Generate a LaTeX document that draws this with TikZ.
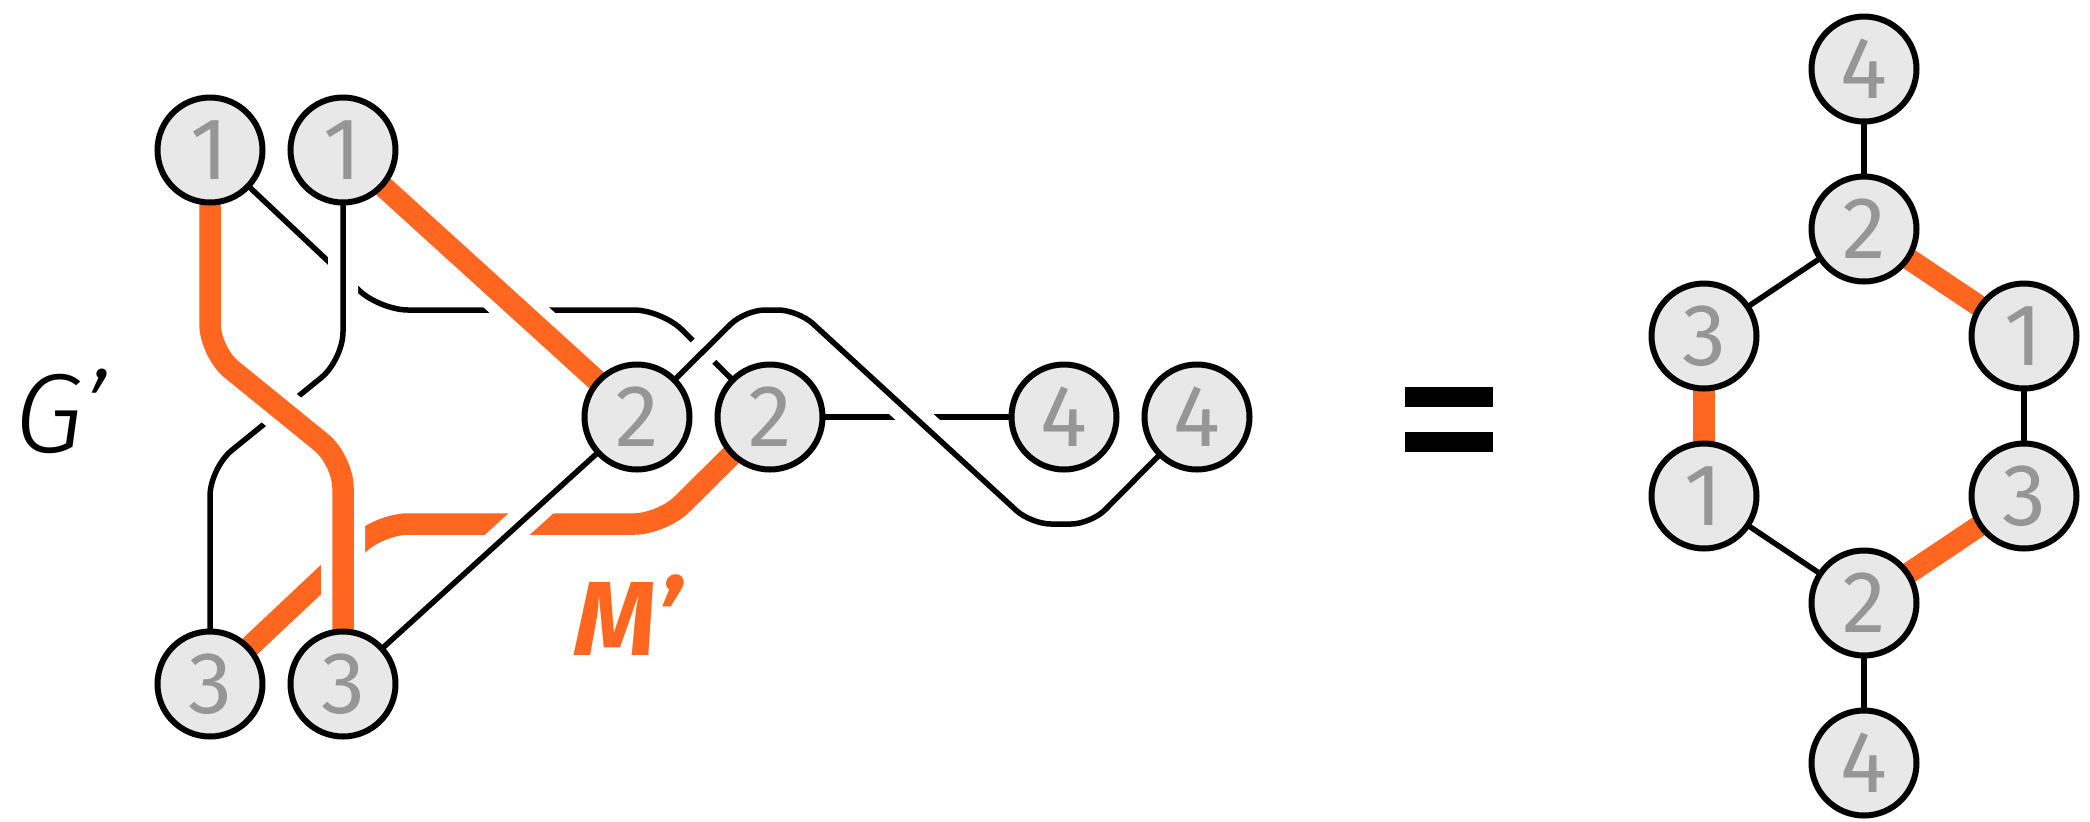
\documentclass[tikz,border=0pt]{standalone}
\usepackage{fontspec}
\setmainfont{Fira Sans}
\newfontfamily\lightfont{Fira Sans Light}
\definecolor{mOrange}{HTML}{FF6620}
\definecolor{nodefill}{HTML}{E8E8E8}
\definecolor{digitgray}{HTML}{969696}
\pgfdeclarelayer{edges}
\pgfsetlayers{edges,main}
\tikzset{
  vtx/.style={circle, draw=black, line width=0.6mm, fill=nodefill, minimum size=10.5mm,
    inner sep=0pt, text=digitgray, font=\fontsize{25}{26}\selectfont},
  blk/.style={draw=black, line width=0.55mm, line cap=round, line join=round},
  org/.style={draw=mOrange, line width=2.15mm, line cap=round, line join=round},
  bhalo/.style={draw=white, line width=3mm, line cap=butt, line join=round},
  ohalo/.style={draw=white, line width=4.4mm, line cap=butt, line join=round},
  corner/.style={rounded corners=2.8mm},
  smallcorner/.style={rounded corners=2mm}
}
\begin{document}
\begin{tikzpicture}[x=0.1mm,y=-0.1mm]
\useasboundingbox (0,0) rectangle (2090,821);

% left graph nodes
\node[vtx] (L1a) at (210,150) {1};
\node[vtx] (L1b) at (343,150) {1};
\node[vtx] (L2a) at (637,417) {2};
\node[vtx] (L2b) at (770,417) {2};
\node[vtx] (L4a) at (1064,417) {4};
\node[vtx] (L4b) at (1197,417) {4};
\node[vtx] (L3a) at (210,684) {3};
\node[vtx] (L3b) at (343,684) {3};

% right graph nodes
\node[vtx] (R4t) at (1864,69) {4};
\node[vtx] (R2t) at (1864,229) {2};
\node[vtx] (R3l) at (1704,336) {3};
\node[vtx] (R1r) at (2024,336) {1};
\node[vtx] (R1l) at (1704,496) {1};
\node[vtx] (R3r) at (2024,496) {3};
\node[vtx] (R2b) at (1864,603) {2};
\node[vtx] (R4b) at (1864,763) {4};

% labels
\node[anchor=base west, inner sep=0pt, font=\lightfont\fontsize{32}{32}\selectfont\itshape] (Glab) at (14,452) {G’};
\node[anchor=base west, inner sep=0pt, text=mOrange, font=\fontsize{30}{30}\selectfont\bfseries\itshape] (Mlab) at (574,655) {M’};

% equals sign
\fill[black] (1405,387) rectangle (1493,407);
\fill[black] (1405,432) rectangle (1493,452);

\begin{pgfonlayer}{edges}
  % under-lines
  \draw[blk, corner] (L1a) -- (380,310) -- (662,310) -- (L2b);
  \draw[org, corner] (L3a) -- (380,524) -- (662,524) -- (L2b);
  \draw[blk] (L2b) -- (L4a);
  % 1b - 3a (over A, under D)
  \draw[bhalo, corner] (L1b) -- (343,360) -- (210,468) -- (L3a);
  \draw[blk, corner] (L1b) -- (343,360) -- (210,468) -- (L3a);
  % 1a - 3b orange
  \draw[ohalo, corner] (L1a) -- (210,352) -- (343,460) -- (L3b);
  \draw[org, corner] (L1a) -- (210,352) -- (343,460) -- (L3b);
  % 1b - 2a orange
  \draw[ohalo] (L1b) -- (L2a);
  \draw[org] (L1b) -- (L2a);
  % 3b - 2a black
  \draw[bhalo] (L3b) -- (L2a);
  \draw[blk] (L3b) -- (L2a);
  % 2a - 4b black
  \draw[bhalo, smallcorner] (L2a) -- (745,310) -- (798,310) -- (1031,524) -- (1091,524) -- (L4b);
  \draw[blk, smallcorner] (L2a) -- (745,310) -- (798,310) -- (1031,524) -- (1091,524) -- (L4b);

  % right graph edges
  \draw[blk] (R4t) -- (R2t);
  \draw[blk] (R2t) -- (R3l);
  \draw[org] (R2t) -- (R1r);
  \draw[blk] (R1r) -- (R3r);
  \draw[org] (R3l) -- (R1l);
  \draw[blk] (R1l) -- (R2b);
  \draw[org] (R2b) -- (R3r);
  \draw[blk] (R2b) -- (R4b);
\end{pgfonlayer}
\end{tikzpicture}
\end{document}
